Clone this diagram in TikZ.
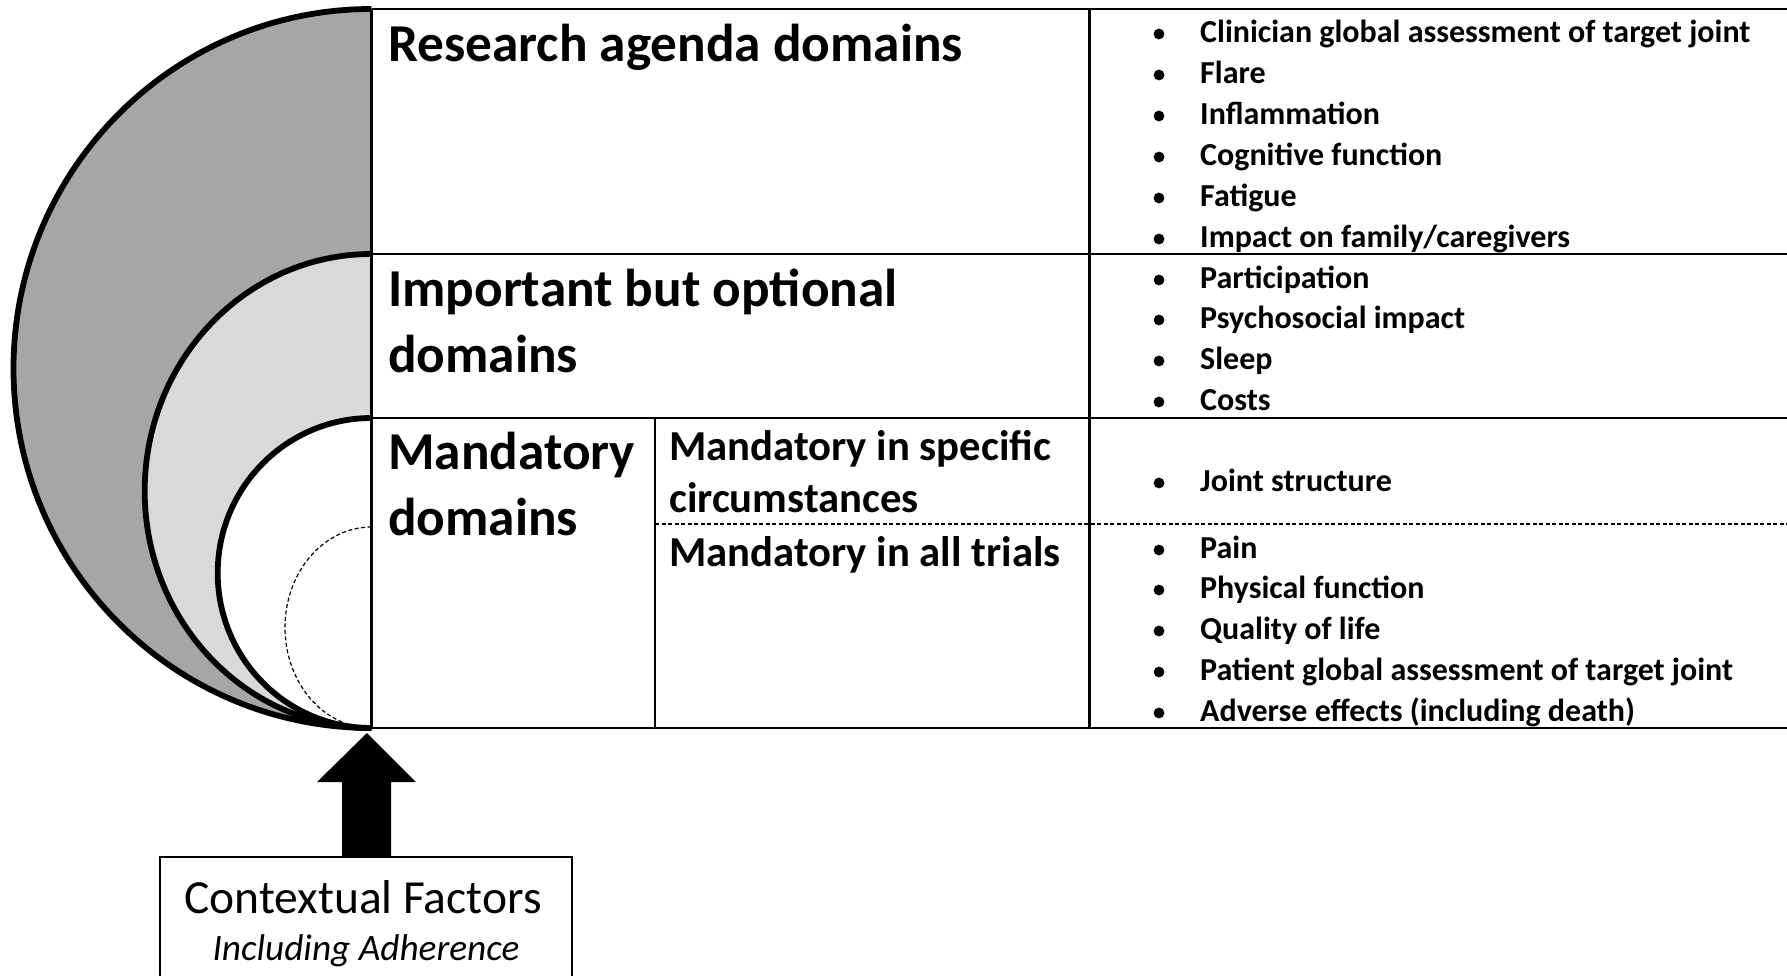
\documentclass[tikz,border=0pt]{standalone}
\usepackage{fontspec}
\setmainfont{Carlito}
\definecolor{darkg}{HTML}{A6A6A6}
\definecolor{lightg}{HTML}{D9D9D9}
\newcommand{\bitem}[3]{%
  \node[itm] (#1) at (1200,#2) {#3};
  \fill (1159,{#2-8.5}) circle[radius=5.4pt];}
\begin{document}
\begin{tikzpicture}[x=1pt,y=-1pt,
  tline/.style={line width=2.5pt},
  dline/.style={line width=1.2pt, dash pattern=on 4pt off 2.5pt},
  curve/.style={line width=5.8pt},
  hd/.style={anchor=base west, inner sep=0pt, font=\fontsize{53.3}{65}\selectfont\bfseries},
  subhd/.style={anchor=base west, inner sep=0pt, font=\fontsize{42.7}{52}\selectfont\bfseries},
  itm/.style={anchor=base west, inner sep=0pt, font=\fontsize{32}{39}\selectfont\bfseries},
]
\useasboundingbox (0,0) rectangle (1787,976);
\clip (0,0) rectangle (1787,976);
\fill[white] (0,0) rectangle (1787,976);

% nested half-ellipses
\fill[darkg] (371.5,9) arc[start angle=90,end angle=270,x radius=358pt,y radius=359.5pt] -- cycle;
\draw[curve] (371.5,9) arc[start angle=90,end angle=270,x radius=358pt,y radius=359.5pt];
\fill[lightg] (371.5,254) arc[start angle=90,end angle=270,x radius=226.8pt,y radius=237pt] -- cycle;
\draw[curve] (371.5,254) arc[start angle=90,end angle=270,x radius=226.8pt,y radius=237pt];
\fill[white] (371.5,418) arc[start angle=90,end angle=270,x radius=153.8pt,y radius=155pt] -- cycle;
\draw[curve] (371.5,418) arc[start angle=90,end angle=270,x radius=153.8pt,y radius=155pt];
\draw[dline] (371.5,527) arc[start angle=90,end angle=250,x radius=86.5pt,y radius=100.5pt];

% table
\draw[tline] (371.5,9) -- (1790,9);
\draw[tline] (371.5,254) -- (1790,254);
\draw[tline] (371.5,418) -- (1790,418);
\draw[tline] (371.5,728) -- (1790,728);
\draw[tline] (371.5,9) -- (371.5,728);
\draw[tline] (1089.5,9) -- (1089.5,728);
\draw[tline] (655,418) -- (655,728);
\draw[dline] (655,524) -- (1790,524);

% headings
\node[hd] (h1) at (388,61.5) {Research agenda domains};
\node[hd] (h2a) at (388,306) {Important but optional};
\node[hd] (h2b) at (388,372) {domains};
\node[hd] (h3a) at (388,469.5) {Mandatory};
\node[hd] (h3b) at (388,535) {domains};
\node[subhd] (s1a) at (669,460) {Mandatory in specific};
\node[subhd] (s1b) at (669,512) {circumstances};
\node[subhd] (s2) at (669,566) {Mandatory in all trials};

% items
\bitem{r1}{42.5}{Clinician global assessment of target joint}
\bitem{r2}{83.5}{Flare}
\bitem{r3}{124.5}{Inflammation}
\bitem{r4}{165.5}{Cognitive function}
\bitem{r5}{206.5}{Fatigue}
\bitem{r6}{247.5}{Impact on family/caregivers}
\bitem{o1}{288.5}{Participation}
\bitem{o2}{328.5}{Psychosocial impact}
\bitem{o3}{369.5}{Sleep}
\bitem{o4}{410.5}{Costs}
\bitem{j1}{491.5}{Joint structure}
\bitem{m1}{558.5}{Pain}
\bitem{m2}{598.5}{Physical function}
\bitem{m3}{639.5}{Quality of life}
\bitem{m4}{680.5}{Patient global assessment of target joint}
\bitem{m5}{721.5}{Adverse effects (including death)}

% contextual factors
\node[draw, line width=1.5pt, minimum width=412pt, minimum height=150pt, anchor=north, inner sep=0pt] (cf) at (366,856) {};
\node[anchor=base, inner sep=0pt, font=\fontsize{47.5}{58}\selectfont] (cft) at (363,913) {Contextual Factors};
\node[anchor=base, inner sep=0pt, font=\fontsize{37.3}{45}\selectfont\itshape] (cfi) at (366,960) {Including Adherence};
\fill ([xshift=-24pt]cf.north) -- ([xshift=-24pt,yshift=74pt]cf.north) -- ([xshift=-49pt,yshift=74pt]cf.north) -- ([xshift=1pt,yshift=123pt]cf.north) -- ([xshift=50pt,yshift=74pt]cf.north) -- ([xshift=25pt,yshift=74pt]cf.north) -- ([xshift=25pt]cf.north) -- cycle;
\end{tikzpicture}
\end{document}
